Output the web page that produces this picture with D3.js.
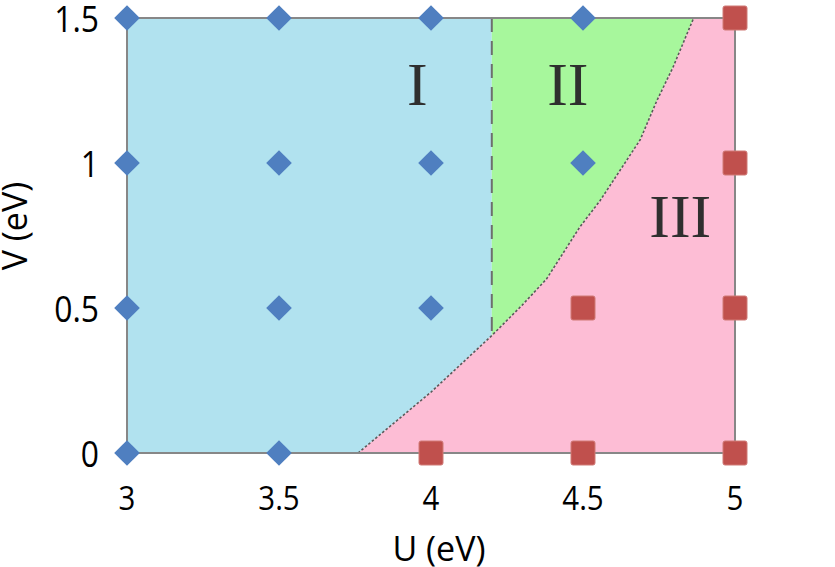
<!DOCTYPE html>
<html><head><meta charset="utf-8">
<script src="https://cdn.jsdelivr.net/npm/d3@7"></script>
<style>body{margin:0;background:#fff}svg{display:block}</style>
</head><body>
<svg id="c" width="835" height="567"></svg>
<script>
// ---- data ----
const xTicks = [3, 3.5, 4, 4.5, 5];
const yTicks = [0, 0.5, 1, 1.5];
const xTickLabels = ["3", "3.5", "4", "4.5", "5"];
const yTickLabels = ["0", "0.5", "1", "1.5"];
const blueU = [3, 3, 3, 3, 3.5, 3.5, 3.5, 3.5, 4, 4, 4, 4.5, 4.5];
const blueV = [0, 0.5, 1, 1.5, 0, 0.5, 1, 1.5, 0.5, 1, 1.5, 1, 1.5];
const redU = [4, 4.5, 4.5, 5, 5, 5, 5];
const redV = [0, 0, 0.5, 0, 0.5, 1, 1.5];
const boundaryU = [3.76, 4.0, 4.2, 4.3, 4.38, 4.49, 4.556, 4.622, 4.688, 4.743, 4.796, 4.864];
const boundaryV = [0, 0.21, 0.405, 0.51, 0.60, 0.78, 0.87, 0.975, 1.08, 1.215, 1.33, 1.5];
const dividerU = 4.2;
const regionLabels = ["I", "II", "III"];
const regionU = [3.955, 4.45, 4.82];
const regionV = [1.2, 1.2, 0.745];

// ---- layout ----
const svg = d3.select("#c");
const x = d3.scaleLinear().domain([3, 5]).range([127, 735]);
const y = d3.scaleLinear().domain([0, 1.5]).range([453, 18]);

const curvePts = boundaryU.map((u, i) => [u, boundaryV[i]]);
const vAtDivider = (() => {
  for (let i = 1; i < curvePts.length; i++) {
    const [u0, v0] = curvePts[i - 1], [u1, v1] = curvePts[i];
    if (dividerU >= u0 && dividerU <= u1) return v0 + (v1 - v0) * (dividerU - u0) / (u1 - u0);
  }
  return 0;
})();
const lower = curvePts.filter(p => p[0] < dividerU);
const upper = curvePts.filter(p => p[0] > dividerU);
const lin = d3.line().x(d => x(d[0])).y(d => y(d[1]));

// blue region
const bluePoly = [[3, 0], [3, 1.5], [dividerU, 1.5], [dividerU, vAtDivider]]
  .concat(lower.slice().reverse());
svg.append("path").attr("d", lin(bluePoly) + "Z").attr("fill", "#b1e2ef");
// green region
const greenPoly = [[dividerU, vAtDivider]].concat(upper).concat([[dividerU, 1.5]]);
svg.append("path").attr("d", lin(greenPoly) + "Z").attr("fill", "#a7f79c");
// pink region
const pinkPoly = curvePts.concat([[5, 1.5], [5, 0]]);
svg.append("path").attr("d", lin(pinkPoly) + "Z").attr("fill", "#fdbdd5");

// boundary curve
svg.append("path").attr("d", lin(curvePts))
  .attr("fill", "none").attr("stroke", "#5a5a5a").attr("stroke-width", 1.6)
  .attr("stroke-dasharray", "2.5 2");
// dashed divider
svg.append("line")
  .attr("x1", x(dividerU)).attr("x2", x(dividerU))
  .attr("y1", y(1.5)).attr("y2", y(vAtDivider))
  .attr("stroke", "#6e6e6e").attr("stroke-width", 2)
  .attr("stroke-dasharray", "14 9");

// frame
svg.append("rect").attr("x", x(3)).attr("y", y(1.5))
  .attr("width", x(5) - x(3)).attr("height", y(0) - y(1.5))
  .attr("fill", "none").attr("stroke", "#878787").attr("stroke-width", 2);

// axes (inward ticks)
const fontTick = "'Open Sans', sans-serif";
const gx = svg.append("g").attr("transform", `translate(0,${y(0)})`)
  .call(d3.axisBottom(x).tickValues(xTicks).tickSize(-7).tickFormat(""));
const gy = svg.append("g").attr("transform", `translate(${x(3)},0)`)
  .call(d3.axisLeft(y).tickValues(yTicks).tickSize(-7).tickFormat(""));
const gy2 = svg.append("g").attr("transform", `translate(${x(5)},0)`)
  .call(d3.axisRight(y).tickValues(yTicks).tickSize(-7).tickFormat(""));
const gx2 = svg.append("g").attr("transform", `translate(0,${y(1.5)})`)
  .call(d3.axisTop(x).tickValues(xTicks).tickSize(-7).tickFormat(""));
[gx, gy, gy2, gx2].forEach(g => {
  g.select(".domain").remove();
  g.selectAll(".tick line").attr("stroke", "#878787").attr("stroke-width", 2);
});

// tick labels
svg.append("g").selectAll("text").data(xTicks).join("text")
  .attr("transform", d => `translate(${x(d)},510) scale(0.92,1)`)
  .attr("text-anchor", "middle")
  .attr("font-family", fontTick).attr("font-size", 32).attr("fill", "#000")
  .text((d, i) => xTickLabels[i]);
svg.append("g").selectAll("text").data(yTicks).join("text")
  .attr("transform", d => `translate(99,${y(d) + 13.5}) scale(0.86,1)`)
  .attr("text-anchor", "end")
  .attr("font-family", fontTick).attr("font-size", 37).attr("fill", "#000")
  .text((d, i) => yTickLabels[i]);

// axis titles
svg.append("text").attr("x", 439).attr("y", 561)
  .attr("text-anchor", "middle").attr("font-family", fontTick)
  .attr("font-size", 34).attr("fill", "#000").text("U (eV)");
svg.append("text").attr("transform", "translate(27,226) rotate(-90)")
  .attr("text-anchor", "middle").attr("font-family", fontTick)
  .attr("font-size", 34).attr("fill", "#000").text("V (eV)");

// region labels
svg.append("g").selectAll("text").data(regionLabels).join("text")
  .attr("x", (d, i) => x(regionU[i])).attr("y", (d, i) => y(regionV[i]))
  .attr("text-anchor", "middle")
  .attr("font-family", "'Liberation Serif', 'Times New Roman', serif")
  .attr("font-size", 62).attr("fill", "#2f2f2f")
  .text(d => d);

// markers
const diamond = d3.symbol().type(d3.symbolDiamond2).size(420);
svg.append("g").selectAll("path").data(blueU.map((u, i) => [u, blueV[i]])).join("path")
  .attr("d", diamond)
  .attr("transform", d => `translate(${x(d[0])},${y(d[1])})`)
  .attr("fill", "#4f7fc0");
svg.append("g").selectAll("rect").data(redU.map((u, i) => [u, redV[i]])).join("rect")
  .attr("x", d => x(d[0]) - 12).attr("y", d => y(d[1]) - 12)
  .attr("width", 24).attr("height", 24).attr("rx", 2)
  .attr("fill", "#c0504d").attr("stroke", "#d07a77").attr("stroke-width", 1);
</script>
</body></html>
